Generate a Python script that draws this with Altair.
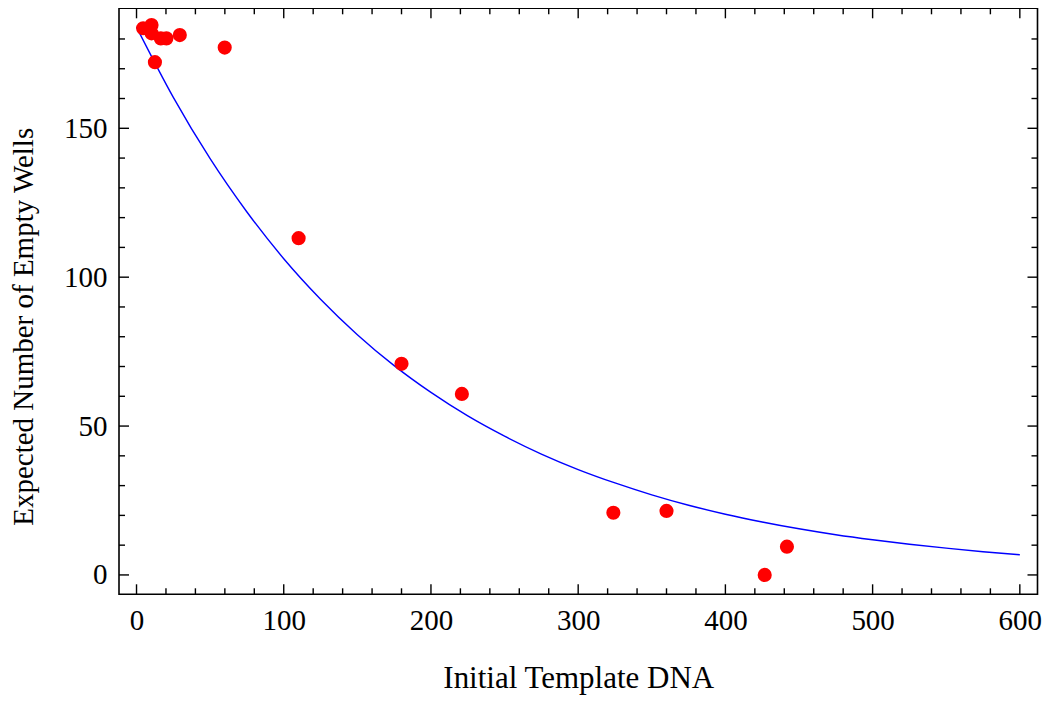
import altair as alt
import pandas as pd

dna = [4.5, 10.2, 10.2, 12.5, 16.5, 20.3, 29.4, 59.9, 110.1, 180.0, 221.0, 323.9, 360.0, 426.7, 441.8]
wells = [183.6, 184.7, 181.9, 172.2, 180.2, 180.2, 181.3, 177.1, 113.1, 70.9, 60.8, 20.9, 21.5, 0.0, 9.5]

# Fitted curve, values
curve_x = [0, 25, 50, 75, 100, 125, 150, 175, 200, 225, 250, 275, 300, 325,
           350, 375, 400, 425, 450, 475, 500, 525, 550, 575, 600]
curve_y = [184.0, 160.4, 139.8, 121.9, 106.2, 92.6, 80.7, 70.3, 61.3, 53.4, 46.6,
           40.6, 35.4, 30.9, 26.9, 23.4, 20.4, 17.8, 15.5, 13.5, 11.8, 10.3, 9.0, 7.8, 6.8]

# Tick values
x_major = [0, 100, 200, 300, 400, 500, 600]
x_minor = [20, 40, 60, 80, 120, 140, 160, 180, 220, 240, 260, 280, 320, 340, 360, 380,
           420, 440, 460, 480, 520, 540, 560, 580]
y_major = [0, 50, 100, 150]
y_minor = [10, 20, 30, 40, 60, 70, 80, 90, 110, 120, 130, 140, 160, 170, 180]

W, H = 918.5, 586
MAJ, MIN = 10, 6
FONT = "Liberation Serif"

xs = alt.Scale(domain=[-11.9, 612], nice=False, zero=False)
ys = alt.Scale(domain=[-6.5, 190.3], nice=False, zero=False)

pts = pd.DataFrame({"x": dna, "y": wells})
crv = pd.DataFrame({"x": curve_x, "y": curve_y})

xaxis = alt.Axis(title="Initial Template DNA", values=x_major, ticks=False, tickSize=0,
                 domain=False, grid=False, labelFont=FONT, labelFontSize=29,
                 labelColor="black", labelPadding=12, titleFont=FONT, titleFontSize=31,
                 titleFontWeight="normal", titleColor="black", titlePadding=28)
yaxis = alt.Axis(title="Expected Number of Empty Wells", values=y_major, ticks=False,
                 tickSize=0, domain=False, grid=False, labelFont=FONT, labelFontSize=29,
                 labelColor="black", labelPadding=12, titleFont=FONT, titleFontSize=29,
                 titleFontWeight="normal", titleColor="black", titlePadding=25,
                 titleY=318)

line = alt.Chart(crv).mark_line(color="#0000FF", strokeWidth=1.4, interpolate="monotone").encode(
    x=alt.X("x:Q", scale=xs, axis=xaxis),
    y=alt.Y("y:Q", scale=ys, axis=yaxis),
)
dots = alt.Chart(pts).mark_circle(color="#FF0000", size=200, opacity=1).encode(
    x=alt.X("x:Q", scale=xs),
    y=alt.Y("y:Q", scale=ys),
)

def xticks(vals, length):
    df = pd.DataFrame({"x": vals})
    bottom = alt.Chart(df).mark_rule(color="black", strokeWidth=1.4).encode(
        x=alt.X("x:Q", scale=xs), y=alt.value(H), y2=alt.value(H - length))
    top = alt.Chart(df).mark_rule(color="black", strokeWidth=1.4).encode(
        x=alt.X("x:Q", scale=xs), y=alt.value(0), y2=alt.value(length))
    return [bottom, top]

def yticks(vals, length):
    df = pd.DataFrame({"y": vals})
    left = alt.Chart(df).mark_rule(color="black", strokeWidth=1.4).encode(
        y=alt.Y("y:Q", scale=ys), x=alt.value(0), x2=alt.value(length))
    right = alt.Chart(df).mark_rule(color="black", strokeWidth=1.4).encode(
        y=alt.Y("y:Q", scale=ys), x=alt.value(W), x2=alt.value(W - length))
    return [left, right]

layers = (xticks(x_major, MAJ) + xticks(x_minor, MIN) + yticks(y_major, MAJ)
          + yticks(y_minor, MIN) + [line, dots])

chart = alt.layer(*layers).properties(
    width=W, height=H,
    autosize=alt.AutoSizeParams(type="none"),
    padding={"left": 111, "top": 0.3, "right": 4.5, "bottom": 103.5},
).configure(
    background="white",
    view=alt.ViewConfig(stroke="black", strokeWidth=1.6),
)

chart.save("out.html", embed_options={"renderer": "svg", "actions": False})
